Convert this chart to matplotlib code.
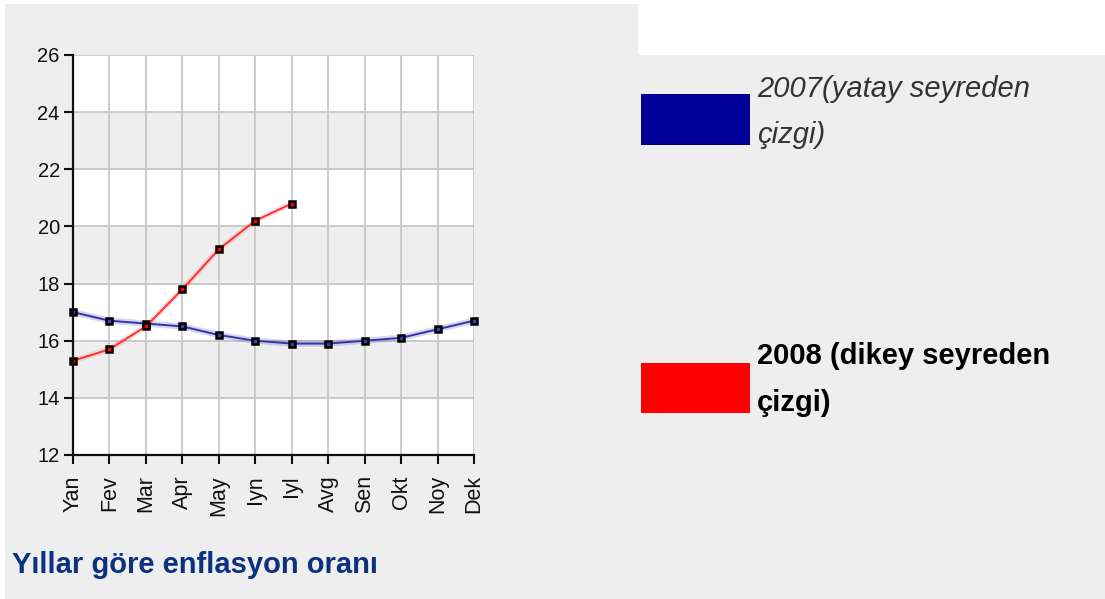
import matplotlib
matplotlib.use("Agg")
import matplotlib.pyplot as plt
from matplotlib.patches import Rectangle

months = ["Yan", "Fev", "Mar", "Apr", "May", "Iyn", "Iyl", "Avg", "Sen", "Okt", "Noy", "Dek"]
infl_2007 = [17.0, 16.7, 16.6, 16.5, 16.2, 16.0, 15.9, 15.9, 16.0, 16.1, 16.4, 16.7]
infl_2008 = [15.3, 15.7, 16.5, 17.8, 19.2, 20.2, 20.8]
yticks = [12, 14, 16, 18, 20, 22, 24, 26]
title = "Yıllar göre enflasyon oranı"
legend_2007 = ["2007(yatay seyreden", "çizgi)"]
legend_2008 = ["2008 (dikey seyreden", "çizgi)"]

W, H = 1105, 599
plt.rcParams['font.family'] = ['Liberation Sans', 'DejaVu Sans']
fig = plt.figure(figsize=(W / 100, H / 100), dpi=100, facecolor="white")


def rect_px(x0, y0, x1, y1, color, z=0):
    fig.add_artist(Rectangle((x0 / W, 1 - y1 / H), (x1 - x0) / W, (y1 - y0) / H,
                             transform=fig.transFigure, facecolor=color,
                             edgecolor="none", zorder=z))


# panels
rect_px(5, 4, 638, H, "#eeeeee")
rect_px(636, 55, W, H, "#eeeeee")

# axes
ax = fig.add_axes([73 / W, 1 - 455 / H, 401 / W, 400 / H])
ax.set_facecolor("white")
x = list(range(len(months)))
ax.set_xlim(0, len(months) - 1)
ax.set_ylim(yticks[0], yticks[-1])
for i in range(1, len(yticks) - 1, 2):
    ax.axhspan(yticks[i], yticks[i + 1], color="#eeeeee", zorder=0)

ax.set_xticks(x)
ax.set_xticklabels(months, rotation=90, fontsize=15.5, color="#111111")
ax.set_yticks(yticks)
ax.set_yticklabels([str(v) for v in yticks], fontsize=14.5, color="#111111")
ax.grid(True, color="#c8c8c8", lw=1.3, zorder=1)
ax.set_axisbelow(True)
for s in ["top", "right"]:
    ax.spines[s].set_visible(False)
for s in ["left", "bottom"]:
    ax.spines[s].set_linewidth(1.6)
    ax.spines[s].set_color("#111111")
    ax.spines[s].set_zorder(5)
ax.tick_params(axis="both", length=6.5, width=1.5, color="#111111")
ax.tick_params(axis="x", pad=8)
ax.tick_params(axis="y", pad=3)

# 2007 line
ax.plot(x, infl_2007, color="#3333aa", lw=4.5, alpha=0.2, zorder=3, clip_on=False)
ax.plot(x, infl_2007, color="#3434a6", lw=1.4, zorder=4, clip_on=False,
        marker="s", ms=4.2, mfc="#3a3aaa", mec="black", mew=1.8)
# 2008 line
x8 = x[:len(infl_2008)]
ax.plot(x8, infl_2008, color="#ff3333", lw=4, alpha=0.15, zorder=3, clip_on=False)
ax.plot(x8, infl_2008, color="#ff3030", lw=1.4, zorder=4, clip_on=False,
        marker="s", ms=4.2, mfc="#ff0000", mec="black", mew=1.8)

# title
fig.text(12 / W, 1 - 573 / H, title, fontsize=21, fontweight="bold",
         color="#0b3180", ha="left", va="baseline")

# legend
rect_px(641, 94, 750, 145, "#000096", z=2)
rect_px(641, 363, 750, 413, "#ff0000", z=2)
for txt, yb in zip(legend_2007, [97, 143]):
    fig.text(757 / W, 1 - yb / H, txt, fontsize=21, style="italic",
             color="#333333", ha="left", va="baseline")
for txt, yb in zip(legend_2008, [364, 411]):
    fig.text(757 / W, 1 - yb / H, txt, fontsize=21, fontweight="bold",
             color="black", ha="left", va="baseline")

fig.savefig("out.png", dpi=100, facecolor="white")
